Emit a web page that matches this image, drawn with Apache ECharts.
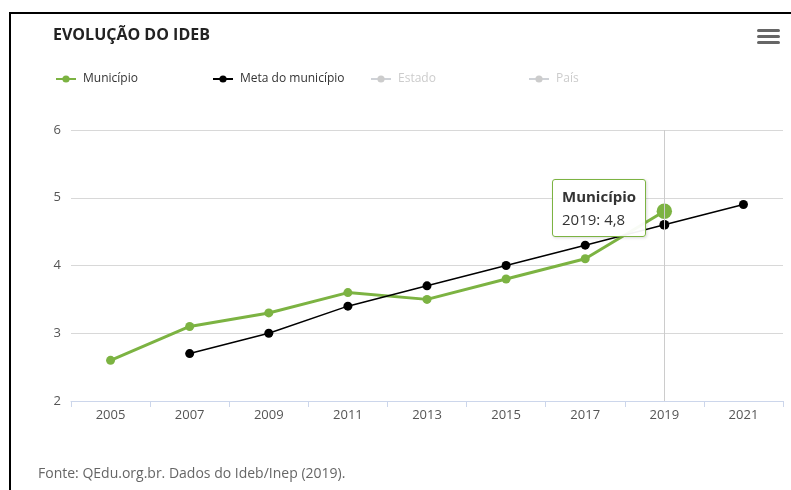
<!DOCTYPE html>
<html>
<head>
<meta charset="utf-8">
<script src="https://cdn.jsdelivr.net/npm/echarts@6/dist/echarts.min.js"></script>
<style>
  html, body { margin: 0; padding: 0; background: #fff; }
  #chart { width: 791px; height: 490px; }
</style>
</head>
<body>
<div id="chart"></div>
<script>
// anos e valores do IDEB
let anos = ['2005', '2007', '2009', '2011', '2013', '2015', '2017', '2019', '2021'];
let municipio = [2.6, 3.1, 3.3, 3.6, 3.5, 3.8, 4.1, 4.8, null];
let meta = [null, 2.7, 3.0, 3.4, 3.7, 4.0, 4.3, 4.6, 4.9];
let estado = [];
let pais = [];
let yTicks = [2, 3, 4, 5, 6];

let verde = '#7cb342';
let fonte = '"Open Sans", "Noto Sans", sans-serif';

let myChart = echarts.init(document.getElementById('chart'));

function legenda(nome, left, ativo) {
    let sel = {};
    sel[nome] = ativo;
    return {
        data: [nome],
        left: left,
        top: 73,
        padding: 0,
        itemWidth: 20,
        itemHeight: 9,
        itemGap: 0,
        selectedMode: false,
        selected: sel,
        inactiveColor: '#ccc',
        textStyle: { color: '#333', fontSize: 12, fontFamily: fonte, padding: [0, 0, 0, 2] }
    };
}

let option = {
    animation: false,
    title: {
        text: 'EVOLUÇÃO DO IDEB',
        left: 53,
        top: 27,
        padding: 0,
        textStyle: { color: '#222', fontSize: 16, fontWeight: 'bold', fontFamily: fonte }
    },
    legend: [
        legenda('Município', 55, true),
        legenda('Meta do município', 212, true),
        legenda('Estado', 370, false),
        legenda('País', 528, false)
    ],
    grid: { left: 71, right: 8, top: 130, bottom: 89 },
    tooltip: {
        trigger: 'axis',
        alwaysShowContent: true,
        backgroundColor: 'rgba(255,255,255,0.95)',
        borderColor: verde,
        borderWidth: 1,
        borderRadius: 3,
        padding: [5, 9],
        extraCssText: 'box-shadow:1px 1px 3px rgba(0,0,0,0.15);',
        textStyle: { color: '#333', fontSize: 15, fontFamily: fonte },
        axisPointer: { type: 'line', lineStyle: { color: '#ccc', width: 1, type: 'solid' } },
        position: function (point) {
            return [point[0] - 112, point[1] - 32];
        },
        formatter: function (params) {
            let p = params.filter(function (d) { return d.seriesName == 'Município'; })[0];
            if (!p) return '';
            return '<b>Município</b><br/>' + p.name + ': ' + String(p.value).replace('.', ',');
        }
    },
    xAxis: {
        type: 'category',
        data: anos,
        axisLine: { lineStyle: { color: '#ccd6eb' } },
        axisTick: { show: true, length: 6, lineStyle: { color: '#ccd6eb' } },
        axisLabel: { color: '#555', fontSize: 13, margin: 8, fontFamily: fonte },
        splitLine: { show: false }
    },
    yAxis: {
        type: 'value',
        min: yTicks[0],
        max: yTicks[yTicks.length - 1],
        interval: 1,
        axisLine: { show: false },
        axisTick: { show: false },
        axisLabel: { color: '#555', fontSize: 13, margin: 10, fontFamily: fonte },
        splitLine: { lineStyle: { color: '#d8d8d8' } }
    },
    series: [
        {
            name: 'Município',
            type: 'line',
            data: municipio,
            color: verde,
            lineStyle: { width: 3 },
            symbol: 'circle',
            symbolSize: function (v, p) { return p.dataIndex == 7 ? 14 : 9; },
            itemStyle: { color: verde },
            emphasis: { disabled: true }
        },
        {
            name: 'Meta do município',
            type: 'line',
            data: meta,
            color: '#000',
            lineStyle: { width: 1.5 },
            symbol: 'circle',
            symbolSize: 9,
            itemStyle: { color: '#000' },
            emphasis: { disabled: true }
        },
        { name: 'Estado', type: 'line', data: estado, color: '#888', symbol: 'circle', symbolSize: 8 },
        { name: 'País', type: 'line', data: pais, color: '#444', symbol: 'circle', symbolSize: 8, lineStyle: { type: 'dashed' } }
    ],
    graphic: [
        // moldura
        { type: 'rect', left: 9, top: 12, shape: { width: 2, height: 478 }, style: { fill: '#000' } },
        { type: 'rect', left: 9, top: 12, shape: { width: 782, height: 2 }, style: { fill: '#000' } },
        // menu
        { type: 'rect', left: 757, top: 29, shape: { width: 23, height: 3, r: 1.5 }, style: { fill: '#666' } },
        { type: 'rect', left: 757, top: 35, shape: { width: 23, height: 3, r: 1.5 }, style: { fill: '#666' } },
        { type: 'rect', left: 757, top: 41, shape: { width: 23, height: 3, r: 1.5 }, style: { fill: '#666' } },
        {
            type: 'text',
            left: 38,
            top: 467,
            style: { text: 'Fonte: QEdu.org.br. Dados do Ideb/Inep (2019).', fill: '#666', fontSize: 14, fontFamily: fonte }
        }
    ]
};
myChart.clear();
myChart.setOption(option);

myChart.dispatchAction({ type: 'showTip', seriesIndex: 0, dataIndex: 7 });
</script>
</body>
</html>
